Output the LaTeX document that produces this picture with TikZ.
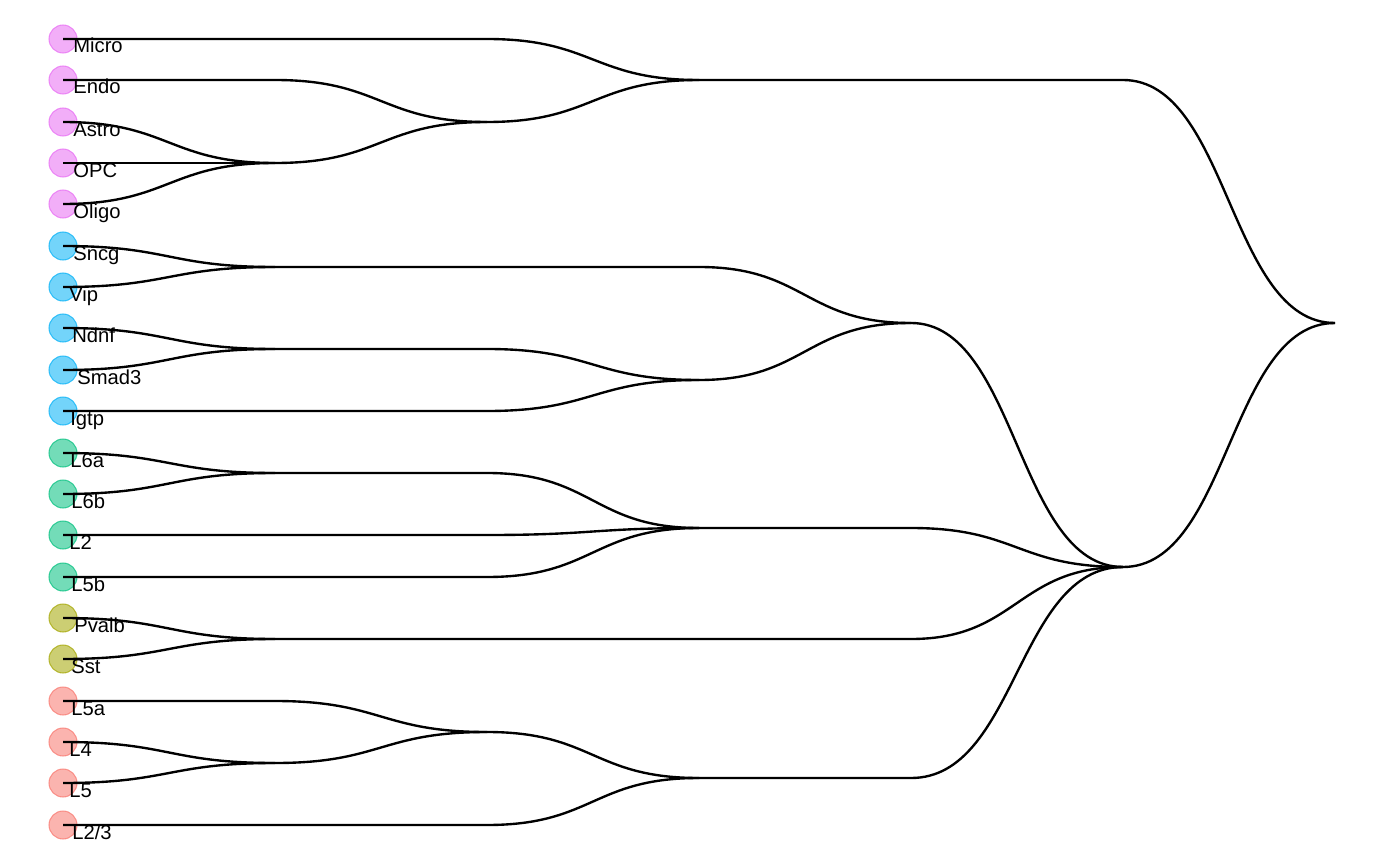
\documentclass[tikz,border=0pt]{standalone}
\usepackage{fontspec}
\setmainfont{Liberation Sans}
\usetikzlibrary{calc}

\definecolor{glia}{HTML}{E76BF3}
\definecolor{inh}{HTML}{00B0F6}
\definecolor{exc}{HTML}{00BF7D}
\definecolor{pvs}{HTML}{A3A500}
\definecolor{lay}{HTML}{F8766D}

% one branch: flat run, then a smooth bend into the parent
\newcommand{\branch}[2]{%
  \draw[edge] let \p1=(#1.center), \p2=(#2.center) in
    (\p1) -- (\x2-4.24cm,\y1) .. controls (\x2-2.12cm,\y1) and (\x2-2.12cm,\y2) .. (\p2);}

\begin{document}
\begin{tikzpicture}[x=0.02cm,y=-0.02cm,
    leaf/.style={circle,minimum size=0.56cm,inner sep=0pt,line width=0.6pt,
      draw=#1,draw opacity=0.7,fill=#1,fill opacity=0.55},
    lab/.style={anchor=base west,inner sep=0pt,font=\fontsize{11.5}{13}\selectfont},
    edge/.style={line width=1.35pt,black}]

    \useasboundingbox (0,0) rectangle (1400,865);

    % leaves
    \node[leaf=glia] (micro) at (63,39) {};
    \node[leaf=glia] (endo) at (63,80) {};
    \node[leaf=glia] (astro) at (63,122) {};
    \node[leaf=glia] (opc) at (63,163) {};
    \node[leaf=glia] (oligo) at (63,204) {};
    \node[leaf=inh] (sncg) at (63,246) {};
    \node[leaf=inh] (vip) at (63,287) {};
    \node[leaf=inh] (ndnf) at (63,328) {};
    \node[leaf=inh] (smad) at (63,370) {};
    \node[leaf=inh] (igtp) at (63,411) {};
    \node[leaf=exc] (l6a) at (63,453) {};
    \node[leaf=exc] (l6b) at (63,494) {};
    \node[leaf=exc] (l2) at (63,535) {};
    \node[leaf=exc] (l5b) at (63,577) {};
    \node[leaf=pvs] (pvalb) at (63,618) {};
    \node[leaf=pvs] (sst) at (63,659) {};
    \node[leaf=lay] (l5a) at (63,701) {};
    \node[leaf=lay] (l4) at (63,742) {};
    \node[leaf=lay] (l5) at (63,783) {};
    \node[leaf=lay] (l23) at (63,825) {};

    % labels
    \node[lab] (micro-t) at (73,53) {Micro};
    \node[lab] (endo-t) at (73,94) {Endo};
    \node[lab] (astro-t) at (73,136) {Astro};
    \node[lab] (opc-t) at (73,177) {OPC};
    \node[lab] (oligo-t) at (73,218) {Oligo};
    \node[lab] (sncg-t) at (73,260) {Sncg};
    \node[lab] (vip-t) at (69,301) {Vip};
    \node[lab] (ndnf-t) at (72,342) {Ndnf};
    \node[lab] (smad-t) at (77,384) {Smad3};
    \node[lab] (igtp-t) at (70,425) {Igtp};
    \node[lab] (l6a-t) at (70,467) {L6a};
    \node[lab] (l6b-t) at (71,508) {L6b};
    \node[lab] (l2-t) at (69,549) {L2};
    \node[lab] (l5b-t) at (71,591) {L5b};
    \node[lab] (pvalb-t) at (74,632) {Pvalb};
    \node[lab] (sst-t) at (71,673) {Sst};
    \node[lab] (l5a-t) at (71,715) {L5a};
    \node[lab] (l4-t) at (69,756) {L4};
    \node[lab] (l5-t) at (69,797) {L5};
    \node[lab] (l23-t) at (72,839) {L2/3};

    % inner nodes
    \coordinate (ga) at (275,163);
    \coordinate (gb) at (487,122);
    \coordinate (gc) at (699,80);
    \coordinate (ia) at (275,267);
    \coordinate (ib) at (275,349);
    \coordinate (ic) at (699,380);
    \coordinate (id) at (911,323);
    \coordinate (ea) at (275,473);
    \coordinate (eb) at (699,528);
    \coordinate (pa) at (275,639);
    \coordinate (ra) at (275,763);
    \coordinate (rb) at (487,732);
    \coordinate (rc) at (699,778);
    \coordinate (ex) at (1123,567);
    \coordinate (root) at (1335,323);

    % branches
    \branch{astro}{ga} \branch{opc}{ga} \branch{oligo}{ga}
    \branch{endo}{gb} \branch{ga}{gb}
    \branch{micro}{gc} \branch{gb}{gc}
    \branch{sncg}{ia} \branch{vip}{ia}
    \branch{ndnf}{ib} \branch{smad}{ib}
    \branch{ib}{ic} \branch{igtp}{ic}
    \branch{ia}{id} \branch{ic}{id}
    \branch{l6a}{ea} \branch{l6b}{ea}
    \branch{ea}{eb} \branch{l2}{eb} \branch{l5b}{eb}
    \branch{pvalb}{pa} \branch{sst}{pa}
    \branch{l4}{ra} \branch{l5}{ra}
    \branch{l5a}{rb} \branch{ra}{rb}
    \branch{rb}{rc} \branch{l23}{rc}
    \branch{id}{ex} \branch{eb}{ex} \branch{pa}{ex} \branch{rc}{ex}
    \branch{gc}{root} \branch{ex}{root}

\end{tikzpicture}
\end{document}
